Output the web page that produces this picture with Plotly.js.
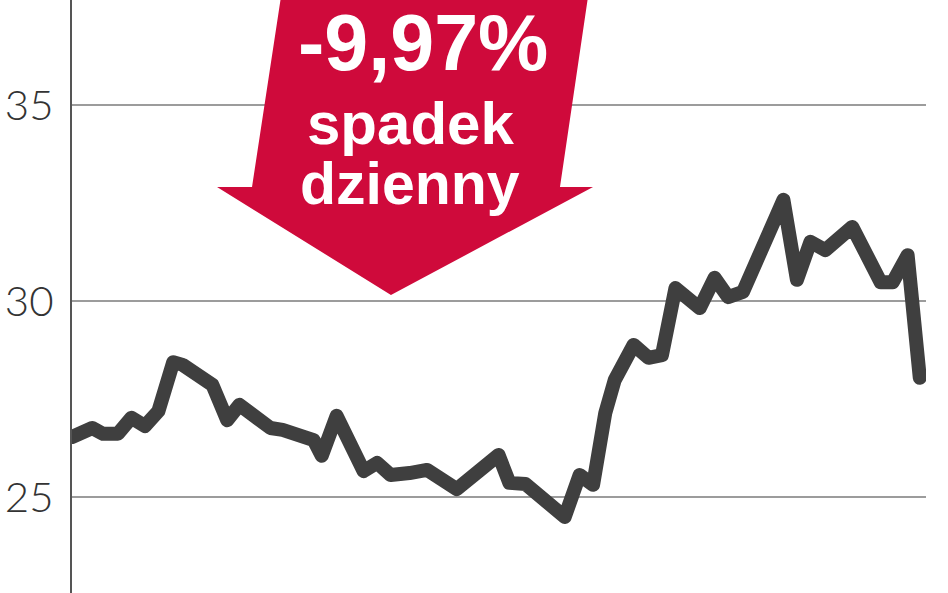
<!DOCTYPE html>
<html>
<head>
<meta charset="utf-8">
<script src="https://cdn.plot.ly/plotly-3.0.1.min.js"></script>
<style>
html,body{margin:0;padding:0;background:#fff;}
#chart{width:948px;height:593px;}
.scatterlayer .js-line{stroke-linejoin:round;stroke-linecap:round;}
</style>
</head>
<body>
<div id="chart"></div>
<script>
// Trading sessions (approximate positions)
const sessions = [0, 1.5, 2.3, 3.4, 4.4, 5.4, 6.4, 7.5, 8.2, 9.5, 10.4, 11.5, 12.4, 14.7, 15.6, 17.9, 18.5, 19.6, 20.6, 21.6, 22.6, 23.6, 25.0, 26.3, 28.5, 31.6, 32.4, 33.6, 36.5, 37.6, 38.6, 39.5, 40.2, 41.6, 42.7, 43.7, 44.7, 46.5, 47.6, 48.6, 49.7, 52.7, 53.7, 54.7, 55.8, 57.8, 59.9, 60.8, 61.9, 62.8];
// Share price
const price = [26.53, 26.76, 26.61, 26.61, 27.02, 26.81, 27.19, 28.44, 28.37, 28.04, 27.86, 26.96, 27.35, 26.76, 26.71, 26.45, 26.05, 27.07, 26.33, 25.66, 25.87, 25.56, 25.61, 25.69, 25.20, 26.07, 25.36, 25.33, 24.49, 25.56, 25.31, 27.14, 27.98, 28.88, 28.55, 28.62, 30.33, 29.82, 30.59, 30.10, 30.23, 32.58, 30.54, 31.51, 31.30, 31.89, 30.48, 30.48, 31.17, 28.04];
// Y tick values
const yTicks = [25, 30, 35];
const yTickLabels = ['25', '30', '35'];
// Callout texts
const calloutLines = ['-9,97%', 'spadek', 'dzienny'];

// helpers: pixel -> paper
const L = 72, R = 926, H = 593;
const px = v => (v - L) / (R - L);
const py = v => (H - v) / H;

const arrowPts = [[282,-10],[252,187],[217,187],[391,295],[593,187],[560,187],[589,-10]];
const arrowPath = 'M ' + arrowPts.map(p => px(p[0]).toFixed(4) + ',' + py(p[1]).toFixed(4)).join(' L ') + ' Z';

const trace = {
  x: sessions, y: price, type: 'scatter', mode: 'lines',
  line: {color: '#3f3f3f', width: 14, shape: 'linear'},
  hoverinfo: 'skip', showlegend: false
};

const layout = {
  width: 948, height: 593,
  margin: {l: L, r: 948 - R, t: 0, b: 0, pad: 0},
  paper_bgcolor: '#fff', plot_bgcolor: '#fff',
  showlegend: false,
  xaxis: {range: [0, 63.26], visible: false, fixedrange: true},
  yaxis: {
    range: [22.55, 37.68],
    tickvals: yTicks, ticktext: yTickLabels,
    showgrid: true, gridcolor: '#9c9c9c', gridwidth: 2,
    zeroline: false,
    showline: true, linecolor: '#555', linewidth: 2,
    ticks: '', ticklabelstandoff: 8,
    tickfont: {family: 'Lato, "DejaVu Sans", sans-serif', size: 42, color: '#333', weight: 300},
    fixedrange: true
  },
  shapes: [{
    type: 'path', xref: 'paper', yref: 'paper', path: arrowPath,
    fillcolor: '#cf0a3b', line: {width: 0}, layer: 'above'
  }],
  annotations: [
    {text: calloutLines[0], xref: 'paper', yref: 'paper', x: px(423), y: py(43), xanchor: 'center', yanchor: 'middle', showarrow: false,
     font: {family: '"Liberation Sans", Arial, sans-serif', size: 79, color: '#fff', weight: 700}},
    {text: calloutLines[1], xref: 'paper', yref: 'paper', x: px(410), y: py(123), xanchor: 'center', yanchor: 'middle', showarrow: false,
     font: {family: '"Liberation Sans", Arial, sans-serif', size: 60, color: '#fff', weight: 700}},
    {text: calloutLines[2], xref: 'paper', yref: 'paper', x: px(410), y: py(184), xanchor: 'center', yanchor: 'middle', showarrow: false,
     font: {family: '"Liberation Sans", Arial, sans-serif', size: 59, color: '#fff', weight: 700}}
  ]
};

Plotly.newPlot('chart', [trace], layout, {staticPlot: true, displayModeBar: false});
</script>
</body>
</html>
